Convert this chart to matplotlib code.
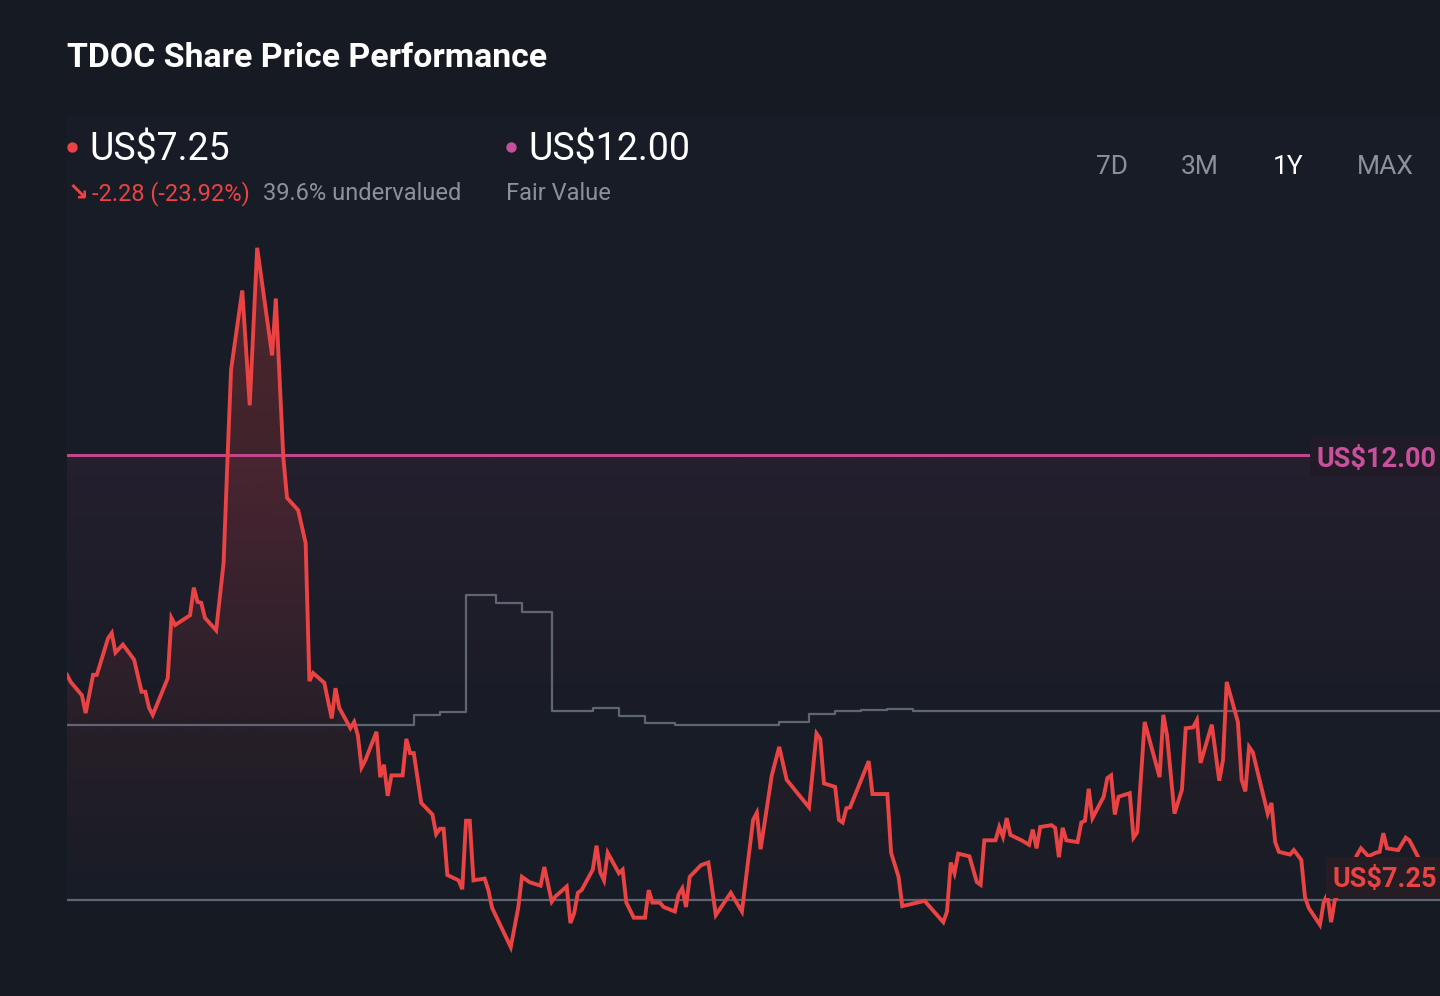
import numpy as np
import matplotlib.pyplot as plt
from matplotlib.patches import Rectangle
from matplotlib.lines import Line2D
from matplotlib.colors import to_rgb

# TDOC 1Y share price (day offset in the year, price in US$)
days = [0, 1, 4, 5, 7, 8, 11, 12, 13, 15, 18, 20, 21, 22, 23, 27, 28, 29, 33, 34,
        35, 36, 37, 40, 42, 43, 44, 47, 49, 51, 55, 56, 58, 59, 62, 64, 65, 66, 69, 71,
        72, 73, 76, 77, 78, 79, 80, 83, 84, 85, 86, 87, 90, 91, 92, 93, 95, 98, 99, 100,
        101, 102, 105, 106, 107, 108, 109, 112, 113, 114, 119, 121, 122, 124, 127, 128, 130, 131, 134, 135,
        136, 137, 138, 141, 142, 143, 144, 145, 148, 149, 150, 152, 155, 156, 157, 159, 160, 163, 164, 165,
        166, 167, 170, 172, 174, 178, 181, 184, 185, 186, 189, 191, 193, 199, 201, 202, 203, 206, 207, 208,
        209, 210, 215, 216, 220, 221, 223, 224, 228, 230, 231, 235, 236, 237, 238, 239, 242, 244, 245, 246,
        249, 250, 251, 252, 253, 256, 258, 259, 260, 261, 264, 265, 266, 267, 268, 271, 272, 273, 274, 275,
        278, 279, 280, 281, 282, 285, 286, 287, 289, 293, 294, 295, 297, 299, 300, 302, 303, 304, 307, 309,
        310, 311, 314, 315, 316, 317, 318, 322, 323, 324, 325, 328, 329, 331, 332, 333, 336, 337, 338, 339,
        340, 341, 346, 347, 349, 351, 352, 353, 354, 357, 359, 360, 362, 365]
price = [9.53, 9.45, 9.30, 9.10, 9.53, 9.53, 9.94, 10.00, 9.78, 9.87, 9.70, 9.34, 9.34, 9.16, 9.08, 9.49, 10.17, 10.09, 10.20, 10.51,
         10.35, 10.34, 10.17, 10.03, 10.79, 11.91, 12.96, 13.85, 12.56, 14.33, 13.12, 13.76, 11.98, 11.52, 11.38, 11.01, 9.46, 9.55, 9.44, 9.04,
         9.38, 9.16, 8.93, 9.00, 8.85, 8.49, 8.57, 8.89, 8.38, 8.52, 8.17, 8.40, 8.40, 8.81, 8.65, 8.65, 8.09, 7.96, 7.74, 7.80,
         7.80, 7.28, 7.22, 7.12, 7.89, 7.89, 7.22, 7.24, 7.11, 6.91, 6.47, 6.91, 7.26, 7.20, 7.16, 7.37, 6.98, 7.04, 7.15, 6.74,
         6.85, 7.08, 7.11, 7.34, 7.61, 7.31, 7.22, 7.53, 7.30, 7.34, 6.97, 6.80, 6.80, 7.11, 6.97, 6.97, 6.92, 6.87, 7.06, 7.13,
         6.92, 7.26, 7.39, 7.42, 6.83, 7.08, 6.87, 7.90, 7.98, 7.57, 8.40, 8.72, 8.35, 8.04, 8.87, 8.81, 8.31, 8.27, 7.90, 7.87,
         8.03, 8.04, 8.56, 8.19, 8.19, 7.53, 7.26, 6.93, 6.97, 6.99, 6.94, 6.75, 6.87, 7.42, 7.30, 7.52, 7.49, 7.20, 7.17, 7.67,
         7.67, 7.82, 7.71, 7.92, 7.73, 7.67, 7.62, 7.79, 7.58, 7.82, 7.84, 7.81, 7.48, 7.81, 7.67, 7.65, 7.87, 7.89, 8.25, 7.92,
         8.16, 8.37, 8.40, 7.96, 8.16, 8.20, 7.70, 7.76, 9.00, 8.38, 9.08, 8.85, 7.97, 8.24, 8.93, 8.94, 9.02, 8.54, 8.97, 8.34,
         8.57, 9.45, 9.00, 8.35, 8.22, 8.72, 8.66, 7.97, 8.09, 7.65, 7.54, 7.51, 7.56, 7.45, 7.03, 6.91, 6.72, 6.97, 7.06, 6.75,
         7.00, 7.06, 7.51, 7.58, 7.49, 7.53, 7.54, 7.75, 7.58, 7.56, 7.70, 7.67, 7.51, 7.25]

# grey stepped line (start day of each level, level in US$)
target_days = [0, 93, 100, 107, 115, 122, 130, 141, 148, 155, 163, 191, 199, 206, 213, 220, 227]
target_vals = [8.97, 9.08, 9.11, 10.43, 10.34, 10.24, 9.12, 9.16, 9.07, 8.99, 8.97, 9.00, 9.09, 9.12, 9.13, 9.15, 9.12]

base_price = 7.00
fair_value = 12.00
last_price = 7.25
change = -2.28
change_pct = -23.92
undervalued_pct = 39.6
periods = ['7D', '3M', '1Y', 'MAX']

BG = '#161a23'
PANEL = '#181c26'
RED = '#ea4343'
MAGENTA = '#c2468d'
GREY_LINE = '#5f6671'
GREY_TEXT = '#8b9099'

plt.rcParams['font.family'] = ['Roboto', 'DejaVu Sans']

W, H = 1440, 996
fig = plt.figure(figsize=(W / 100, H / 100), dpi=100, facecolor=BG)


def fx(x):
    return x / W


def fy(y):
    return 1 - y / H


# slightly lighter chart panel
fig.patches.append(Rectangle((fx(67), fy(900)), 1 - fx(67), (900 - 115) / H,
                             transform=fig.transFigure, facecolor=PANEL,
                             edgecolor='none', zorder=-1))

ax = fig.add_axes([fx(67), 0, 1 - fx(67), (H - 230) / H])
ax.set_zorder(1)
ax.patch.set_alpha(0)
ax.axis('off')
xmax = 368.2
ymin, ymax = 5.92, 14.53

# faint magenta band under fair value
band = np.zeros((256, 1, 4))
band[..., :3] = to_rgb(MAGENTA)
band[:, 0, 3] = np.linspace(0.08, 0.0, 256)
ax.imshow(band, extent=(0, xmax, 8.8, fair_value), aspect='auto',
          origin='upper', zorder=1, interpolation='bilinear')

# red gradient under price line
poly = ax.fill_between(days, price, ymin, facecolor='none', edgecolor='none')
grad = np.zeros((256, 1, 4))
grad[..., :3] = to_rgb(RED)
grad[:, 0, 3] = np.linspace(0.28, 0.0, 256)
im = ax.imshow(grad, extent=(0, xmax, 7.0, 14.4), aspect='auto',
               origin='upper', zorder=2, interpolation='bilinear')
im.set_clip_path(poly.get_paths()[0], transform=ax.transData)

ax.axhline(base_price, color=GREY_LINE, lw=1.6, zorder=3)
ax.step(target_days + [xmax], target_vals + [target_vals[-1]], where='post',
        color=GREY_LINE, lw=1.6, zorder=3)
ax.axhline(fair_value, color=MAGENTA, lw=2.2, zorder=4)
ax.plot(days, price, color=RED, lw=2.8, zorder=5, solid_joinstyle='miter')
ax.set_xlim(0, xmax)
ax.set_ylim(ymin, ymax)

# value tags on the right
fig.patches.append(Rectangle((fx(1310), fy(476)), 1 - fx(1310), 39 / H,
                             transform=fig.transFigure, facecolor='#211b28',
                             edgecolor='none', zorder=6))
fig.text(fx(1317), fy(467), f'US${fair_value:.2f}', color='#c9509b', fontsize=19.5,
         fontweight='bold', va='baseline', ha='left', zorder=7)
fig.patches.append(Rectangle((fx(1326), fy(898)), 1 - fx(1326), 41 / H,
                             transform=fig.transFigure, facecolor='#261c23',
                             edgecolor='none', zorder=6))
fig.text(fx(1333), fy(887), f'US${last_price:.2f}', color=RED, fontsize=19.5,
         fontweight='bold', va='baseline', ha='left', zorder=7)

# header
fig.text(fx(67), fy(67), 'TDOC Share Price Performance', color='white', fontsize=24.4,
         fontweight='bold', va='baseline', ha='left')

fig.add_artist(Line2D([fx(72)], [fy(147)], marker='o', markersize=7.5, color=RED,
                      markeredgewidth=0, transform=fig.transFigure))
fig.text(fx(89), fy(160), f'US${last_price:.2f}', color='white', fontsize=27,
         va='baseline', ha='left')
fig.text(fx(68), fy(199), '\u2198', color=RED, fontsize=18, fontweight='bold',
         family='DejaVu Sans', va='baseline', ha='left')
fig.text(fx(92), fy(200), f'{change:.2f} ({change_pct:.2f}%)', color=RED, fontsize=17,
         va='baseline', ha='left')
fig.text(fx(263), fy(200), f'{undervalued_pct}% undervalued', color=GREY_TEXT,
         fontsize=17, va='baseline', ha='left')

fig.add_artist(Line2D([fx(511)], [fy(147)], marker='o', markersize=7.5, color='#c2509a',
                      markeredgewidth=0, transform=fig.transFigure))
fig.text(fx(528), fy(160), f'US${fair_value:.2f}', color='white', fontsize=27,
         va='baseline', ha='left')
fig.text(fx(506), fy(200), 'Fair Value', color=GREY_TEXT, fontsize=17,
         va='baseline', ha='left')

for label, xc in zip(periods, [1112, 1200, 1288, 1385]):
    fig.text(fx(xc), fy(174), label, color='white' if label == '1Y' else GREY_TEXT,
             fontsize=19, va='baseline', ha='center')

fig.savefig('out.png', dpi=100, facecolor=BG)
